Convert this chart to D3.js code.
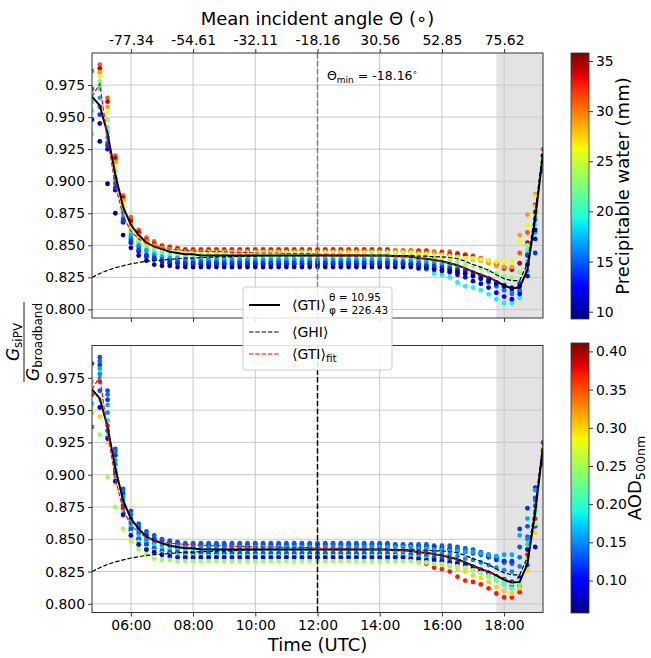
<!DOCTYPE html>
<html>
<head>
<meta charset="utf-8">
<script src="https://cdn.jsdelivr.net/npm/d3@7"></script>
<style>
  body { margin: 0; background: #fff; }
  svg { font-family: "DejaVu Sans", sans-serif; }
</style>
</head>
<body>
<svg id="chart" width="651" height="658"></svg>
<script>
// sample times (UTC), every 15 minutes
const times = ['04:45','05:00','05:15','05:30','05:45','06:00','06:15','06:30','06:45','07:00','07:15','07:30','07:45',
  '08:00','08:15','08:30','08:45','09:00','09:15','09:30','09:45','10:00','10:15','10:30','10:45','11:00','11:15','11:30','11:45',
  '12:00','12:15','12:30','12:45','13:00','13:15','13:30','13:45','14:00','14:15','14:30','14:45',
  '15:00','15:15','15:30','15:45','16:00','16:15','16:30','16:45','17:00','17:15','17:30','17:45','18:00','18:15','18:30','18:45','19:00','19:15']

const timeTickLabels = ['06:00','08:00','10:00','12:00','14:00','16:00','18:00']
const angleTickLabels = ['-77.34','-54.61','-32.11','-18.16','30.56','52.85','75.62']
const ratioTicks = [0.800, 0.825, 0.850, 0.875, 0.900, 0.925, 0.950, 0.975]
const pwTicks = [10, 15, 20, 25, 30, 35]
const aodTicks = [0.10, 0.15, 0.20, 0.25, 0.30, 0.35, 0.40]

// one entry per day: precipitable water (mm) and AOD at 500 nm
const dayPW  = [31, 34, 29, 26, 23, 20.5, 19, 17, 15.5, 12.5, 14, 10]
const dayAOD = [0.13, 0.14, 0.12, 0.16, 0.15, 0.18, 0.37, 0.13, 0.21, 0.30, 0.10, 0.25]

// G_siPV / G_broadband per day, in thousandths (null = no sample)
const dayRatio = [
  [null,991,965,920,889,872,862,856,853,850,849,848,847,
   847,847,847,847,847,847,847, 847,847,847,847,847,847,847, 847,847,847,847,847,847,847, 847,847,847,847,847,846,846,
   846,846,846,845,845,845,844,843,842,840,838,836,833,832,844,860,882,925],
  [null,988,962,918,887,869,860,854,851,849,848,847,846,
   846,846,846,846,846,846,846, 846,846,846,846,846,846,846, 846,846,846,846,846,846,846, 846,846,846,846,846,845,845,
   845,845,845,844,844,843,843,842,841,839,837,835,832,831,836,852,876,null],
  [null,985,958,915,885,866,858,853,850,848,847,846,845,
   845,845,845,845,845,845,845, 845,845,845,845,845,845,845, 845,845,845,845,845,845,845, 845,845,845,845,845,845,845,
   845,844,844,844,843,842,841,840,839,838,836,834,833,833,858,874,890,null],
  [null,982,954,911,883,864,856,851,848,847,846,845,844,
   844,844,844,844,844,844,844, 844,844,844,844,844,844,844, 844,844,844,844,844,844,844, 844,844,844,844,844,844,844,
   844,843,843,842,842,841,841,840,840,839,838,837,838,838,853,866,888,918],
  [937,978,948,908,880,862,854,849,847,845,844,843,843,
   843,843,843,843,843,843,843, 843,843,843,843,843,843,843, 843,843,843,843,843,843,843, 843,843,843,843,842,842,842,
   842,841,841,840,839,838,837,835,834,832,830,828,826,825,829,850,880,912],
  [955,975,942,904,877,860,852,847,845,843,842,841,841,
   840,840,840,840,840,840,840, 840,840,840,840,840,840,840, 840,840,840,840,840,840,840, 840,840,840,840,840,840,840,
   839,839,838,837,836,835,833,831,829,827,824,821,819,817,821,846,872,null],
  [962,972,938,900,874,857,850,846,843,841,840,839,839,
   838,838,838,838,838,838,838, 838,838,838,838,838,838,838, 838,838,838,838,838,838,838, 838,838,838,838,837,837,837,
   836,834,831,828,827,825,821,818,817,815,812,808,805,805,809,838,866,920],
  [986,965,934,902,876,858,850,846,843,841,840,840,839,
   839,839,839,839,839,839,839, 839,839,839,839,839,839,839, 839,839,839,839,839,839,839, 839,839,839,839,839,838,838,
   838,838,837,836,835,834,832,830,828,826,823,820,817,814,814,830,860,908],
  [972,958,930,898,871,855,848,843,841,839,838,838,837,
   837,837,837,837,837,837,837, 837,837,837,837,837,837,837, 837,837,837,837,837,837,837, 837,837,837,837,837,837,837,
   836,836,835,834,833,832,830,828,826,824,821,818,815,812,815,843,870,null],
  [948,945,925,893,868,852,845,841,839,837,836,836,835,
   835,835,835,835,835,835,835, 835,835,835,835,835,835,835, 835,835,835,835,835,835,835, 835,835,835,835,835,835,835,
   835,834,833,832,830,829,827,825,822,820,817,813,810,808,812,826,855,915],
  [null,952,928,895,869,853,846,842,840,838,837,836,836,
   836,836,836,836,836,836,836, 836,836,836,836,836,836,836, 836,836,836,836,836,836,836, 836,836,836,836,836,836,836,
   835,835,834,834,833,832,831,830,828,826,824,821,819,817,820,842,844,null],
  [null,931,898,875,858,848,842,838,835,834,834,833,833,
   833,833,833,833,833,833,833, 833,833,833,833,833,833,833, 833,833,833,833,833,833,833, 833,833,833,833,833,833,833,
   833,832,832,831,831,830,829,828,826,824,822,820,818,816,818,835,862,920]
]

// mean curves, thousandths
const gtiMean = [966,959,937,905,880,866,858,852,849,847,845,844,843,
  843,842,842,842,842,842,842, 842,842,842,842,842,842,842, 842,842,842,842,842,842,842, 842,842,842,842,842,841.5,841.5,
  841,840,839.5,838.5,837.5,836,834.5,832,829.5,827,825,822,818.5,816.5,817,831,871,921]
const ghiMean = [825,828,830.5,832.5,834,835.5,836.5,837.5,838,838.5,839,839.5,840,
  840,840.5,840.5,841,841,841,841.5, 841.5,841.5,842,842,842,842,842, 842,842,842,842,842,842,842, 842,842,842,842,842,842,842,
  842,841.5,841.5,841,841,840.5,839.5,837.5,835,833,830.5,827,824,822.5,822.5,836,876,925]
const gtiFit = [966,976,933,897,873,861,855,851.5,849.5,848,847,846.5,846,
  845.5,845.5,845,845,845,844.5,844.5, 844.5,844,844,844,844,843.5,843.5, 843.5,843.5,843,843,843,843,842.5, 842.5,842.5,842,842,842,841.5,841.5,
  841,840,839.5,838.5,837.5,836,834.5,832,829.5,827,825,822,null,null,null,null,null,null]

// ---------------------------------------------------------------
const svg = d3.select('#chart')
const toHours = s => { const [h, m] = s.split(':').map(Number); return h + m / 60 }
const hours = times.map(toHours)

const x = d3.scaleLinear().domain([4.75, 19.25]).range([92, 543])
const yDomain = [0.7933, 1.0]

// matplotlib "jet"
const jetR = d3.scaleLinear([0, 0.35, 0.66, 0.89, 1], [0, 0, 1, 1, 0.5]).clamp(true)
const jetG = d3.scaleLinear([0, 0.125, 0.375, 0.64, 0.91, 1], [0, 0, 1, 1, 0, 0]).clamp(true)
const jetB = d3.scaleLinear([0, 0.11, 0.34, 0.65, 1], [0.5, 1, 1, 0, 0]).clamp(true)
const jet = t => d3.rgb(jetR(t) * 255, jetG(t) * 255, jetB(t) * 255).formatHex()

const defs = svg.append('defs')
const grad = defs.append('linearGradient').attr('id', 'jetGrad')
  .attr('x1', 0).attr('y1', 1).attr('x2', 0).attr('y2', 0)
d3.range(0, 1.0001, 0.02).forEach(t => grad.append('stop').attr('offset', t).attr('stop-color', jet(t)))

const panels = [
  { top: 53, bottom: 318, values: dayPW, cDomain: [9.27, 35.8], cTicks: pwTicks, cFmt: d3.format('d'),
    cbTop: 53, cbBottom: 319, vline: '#7f7f7f', id: 'p0' },
  { top: 345.5, bottom: 612.5, values: dayAOD, cDomain: [0.0575, 0.411], cTicks: aodTicks, cFmt: d3.format('.2f'),
    cbTop: 343, cbBottom: 613, vline: '#000', id: 'p1' }
]

panels.forEach((p, pi) => {
  const y = d3.scaleLinear().domain(yDomain).range([p.bottom, p.top])
  const color = v => jet((v - p.cDomain[0]) / (p.cDomain[1] - p.cDomain[0]))
  const g = svg.append('g')

  defs.append('clipPath').attr('id', 'clip' + p.id)
    .append('rect').attr('x', 92).attr('y', p.top).attr('width', 451).attr('height', p.bottom - p.top)

  // evening shading
  g.append('rect').attr('x', x(toHours('17:45'))).attr('y', p.top)
    .attr('width', x(19.25) - x(toHours('17:45'))).attr('height', p.bottom - p.top)
    .attr('fill', '#808080').attr('opacity', 0.22)

  // grid
  const grid = g.append('g').attr('stroke', '#c8c8c8').attr('stroke-width', 1)
  ratioTicks.forEach(v => grid.append('line').attr('x1', 92).attr('x2', 543).attr('y1', y(v)).attr('y2', y(v)))
  timeTickLabels.forEach(s => grid.append('line').attr('x1', x(toHours(s))).attr('x2', x(toHours(s)))
    .attr('y1', p.top).attr('y2', p.bottom))

  // scatter
  const pts = []
  dayRatio.forEach((row, d) => row.forEach((v, i) => {
    if (v != null) pts.push({ h: hours[i], r: v / 1000, c: p.values[d] })
  }))
  g.append('g').attr('clip-path', `url(#clip${p.id})`)
    .selectAll('circle').data(pts).join('circle')
    .attr('cx', d => x(d.h)).attr('cy', d => y(d.r)).attr('r', 2.4)
    .attr('fill', d => color(d.c))

  // noon line
  g.append('line').attr('x1', x(12)).attr('x2', x(12)).attr('y1', p.top).attr('y2', p.bottom)
    .attr('stroke', p.vline).attr('stroke-width', 1.5).attr('stroke-dasharray', '5.5,2.4')

  // mean curves
  const line = d3.line().defined(d => d[1] != null).x(d => x(d[0])).y(d => y(d[1] / 1000))
  const lines = g.append('g').attr('clip-path', `url(#clip${p.id})`).attr('fill', 'none')
  lines.append('path').attr('d', line(hours.map((h, i) => [h, gtiMean[i]])))
    .attr('stroke', '#000').attr('stroke-width', 2)
  lines.append('path').attr('d', line(hours.map((h, i) => [h, ghiMean[i]])))
    .attr('stroke', '#000').attr('stroke-width', 1.2).attr('stroke-dasharray', '4.4,1.9')
  lines.append('path').attr('d', line(hours.map((h, i) => [h, gtiFit[i]])))
    .attr('stroke', '#ff0000').attr('stroke-width', 1.2).attr('stroke-dasharray', '4.4,1.9')

  // frame
  g.append('rect').attr('x', 92).attr('y', p.top).attr('width', 451).attr('height', p.bottom - p.top)
    .attr('fill', 'none').attr('stroke', '#333').attr('stroke-width', 1)

  // axes
  const yAxis = g.append('g').attr('transform', 'translate(92,0)')
    .call(d3.axisLeft(y).tickValues(ratioTicks).tickFormat(d3.format('.3f')).tickSize(4).tickPadding(3))
  const bAxis = g.append('g').attr('transform', `translate(0,${p.bottom})`)
    .call(d3.axisBottom(x).tickValues(timeTickLabels.map(toHours)).tickSize(4).tickPadding(4)
      .tickFormat((d, i) => pi === 1 ? timeTickLabels[i] : ''))
  const axes = [yAxis, bAxis]
  if (pi === 0) {
    axes.push(g.append('g').attr('transform', `translate(0,${p.top})`)
      .call(d3.axisTop(x).tickValues(timeTickLabels.map(toHours)).tickSize(4).tickPadding(4)
        .tickFormat((d, i) => angleTickLabels[i])))
  }
  axes.forEach(a => {
    a.select('.domain').remove()
    a.selectAll('line').attr('stroke', '#333')
    a.selectAll('text').attr('font-size', 13.9).attr('fill', '#000').attr('font-family', 'DejaVu Sans')
  })

  // colorbar
  const cb = svg.append('g')
  const cy = d3.scaleLinear().domain(p.cDomain).range([p.cbBottom, p.cbTop])
  cb.append('rect').attr('x', 571).attr('y', p.cbTop).attr('width', 18).attr('height', p.cbBottom - p.cbTop)
    .attr('fill', 'url(#jetGrad)').attr('stroke', '#333').attr('stroke-width', 0.8)
  const cAxis = cb.append('g').attr('transform', 'translate(589,0)')
    .call(d3.axisRight(cy).tickValues(p.cTicks).tickFormat(p.cFmt).tickSize(4).tickPadding(3))
  cAxis.select('.domain').remove()
  cAxis.selectAll('line').attr('stroke', '#333')
  cAxis.selectAll('text').attr('font-size', 13.9).attr('font-family', 'DejaVu Sans')
})

// ---------- text ----------
// top axis title
svg.append('text').attr('x', 317.5).attr('y', 25).attr('text-anchor', 'middle').attr('font-size', 18)
  .text('Mean incident angle Θ (∘)')
// bottom axis title
svg.append('text').attr('x', 317.5).attr('y', 651).attr('text-anchor', 'middle').attr('font-size', 18)
  .text('Time (UTC)')

// annotation
const ann = svg.append('text').attr('x', 327).attr('y', 80).attr('font-size', 12.5)
ann.append('tspan').text('Θ')
ann.append('tspan').attr('font-size', 9).attr('dy', 3).text('min')
ann.append('tspan').attr('dy', -3).text(' = -18.16')
ann.append('tspan').attr('font-size', 8).attr('dy', -5).text('∘')

// colorbar labels
svg.append('text').attr('transform', 'translate(629,186) rotate(-90)').attr('text-anchor', 'middle')
  .attr('font-size', 18).text('Precipitable water (mm)')
const aodLab = svg.append('text').attr('transform', 'translate(641,478) rotate(-90)').attr('text-anchor', 'middle')
  .attr('font-size', 18)
aodLab.append('tspan').text('AOD')
aodLab.append('tspan').attr('font-size', 12.6).attr('dy', 4).text('500nm')

// y label fraction
const yl = svg.append('g').attr('transform', 'translate(24,342) rotate(-90)')
const num = yl.append('text').attr('x', 0).attr('y', -5).attr('text-anchor', 'middle').attr('font-size', 17)
num.append('tspan').attr('font-style', 'italic').text('G')
num.append('tspan').attr('font-size', 12).attr('dy', 3).text('siPV')
yl.append('line').attr('x1', -40).attr('x2', 40).attr('y1', 0).attr('y2', 0).attr('stroke', '#000').attr('stroke-width', 0.9)
const den = yl.append('text').attr('x', 0).attr('y', 15).attr('text-anchor', 'middle').attr('font-size', 17)
den.append('tspan').attr('font-style', 'italic').text('G')
den.append('tspan').attr('font-size', 12).attr('dy', 3).text('broadband')

// legend
const lg = svg.append('g')
lg.append('rect').attr('x', 243).attr('y', 287).attr('width', 149).attr('height', 83).attr('rx', 3)
  .attr('fill', '#fff').attr('fill-opacity', 0.85).attr('stroke', '#cccccc')
const handles = [
  { y: 305, stroke: '#000', w: 2, dash: null },
  { y: 332, stroke: '#000', w: 1.2, dash: '4.4,1.9' },
  { y: 354, stroke: '#ff0000', w: 1.2, dash: '4.4,1.9' }
]
handles.forEach(h => lg.append('line').attr('x1', 249).attr('x2', 280).attr('y1', h.y).attr('y2', h.y)
  .attr('stroke', h.stroke).attr('stroke-width', h.w).attr('stroke-dasharray', h.dash))
lg.append('text').attr('x', 292).attr('y', 310).attr('font-size', 14).text('⟨GTI⟩')
lg.append('text').attr('x', 329).attr('y', 300.5).attr('font-size', 10.5).text('θ = 10.95')
lg.append('text').attr('x', 329).attr('y', 314).attr('font-size', 10.5).text('φ = 226.43')
lg.append('text').attr('x', 292).attr('y', 337).attr('font-size', 14).text('⟨GHI⟩')
const fit = lg.append('text').attr('x', 292).attr('y', 359).attr('font-size', 14)
fit.append('tspan').text('⟨GTI⟩')
fit.append('tspan').attr('font-size', 10.5).attr('dy', 3).text('fit')
</script>
</body>
</html>
